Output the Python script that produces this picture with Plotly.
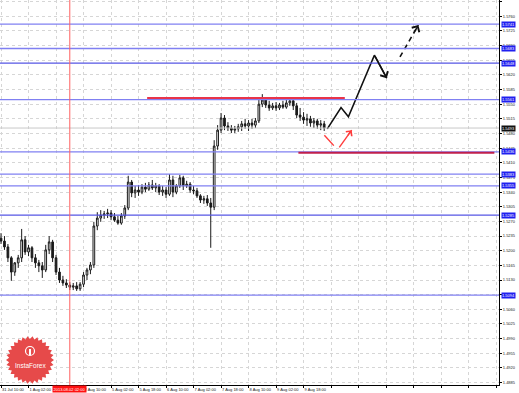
import numpy as np
import plotly.graph_objects as go

# ---------------- data ----------------
bar_hours = list(range(0, 190, 2))  # trading hours since 31 Jul 10:00, 2h bars

open_ = [1.5230,1.5223,1.5209,1.5183,1.5149,1.5171,1.5183,1.5226,1.5197,1.5207,
         1.5183,1.5171,1.5164,1.5154,1.5202,1.5221,1.5183,1.5149,1.5130,1.5123,
         1.5118,1.5113,1.5116,1.5109,1.5120,1.5142,1.5154,1.5166,1.5259,1.5278,
         1.5285,1.5288,1.5290,1.5281,1.5273,1.5266,1.5283,1.5302,1.5364,1.5338,
         1.5345,1.5340,1.5352,1.5347,1.5357,1.5350,1.5355,1.5340,1.5345,1.5335,
         1.5369,1.5340,1.5355,1.5374,1.5355,1.5359,1.5345,1.5343,1.5331,1.5321,
         1.5324,1.5314,1.5304,1.5450,1.5488,1.5517,1.5498,1.5493,1.5488,1.5491,
         1.5496,1.5503,1.5498,1.5505,1.5500,1.5510,1.5550,1.5560,1.5548,1.5541,
         1.5546,1.5541,1.5548,1.5543,1.5553,1.5558,1.5546,1.5524,1.5519,1.5512,
         1.5515,1.5505,1.5510,1.5500,1.5503]
high = [1.5242,1.5235,1.5216,1.5187,1.5173,1.5190,1.5252,1.5235,1.5214,1.5211,
        1.5192,1.5178,1.5173,1.5214,1.5235,1.5226,1.5190,1.5159,1.5140,1.5132,
        1.5125,1.5123,1.5125,1.5125,1.5149,1.5159,1.5173,1.5269,1.5292,1.5297,
        1.5295,1.5300,1.5297,1.5290,1.5283,1.5290,1.5309,1.5379,1.5369,1.5355,
        1.5357,1.5359,1.5362,1.5364,1.5369,1.5362,1.5359,1.5355,1.5352,1.5383,
        1.5379,1.5359,1.5381,1.5379,1.5367,1.5364,1.5355,1.5350,1.5335,1.5331,
        1.5333,1.5326,1.5464,1.5500,1.5529,1.5524,1.5507,1.5500,1.5498,1.5503,
        1.5510,1.5515,1.5512,1.5515,1.5517,1.5565,1.5574,1.5567,1.5558,1.5553,
        1.5555,1.5553,1.5558,1.5560,1.5565,1.5562,1.5553,1.5541,1.5531,1.5527,
        1.5522,1.5517,1.5515,1.5512,1.5510]
low = [1.5216,1.5202,1.5173,1.5128,1.5140,1.5159,1.5173,1.5190,1.5187,1.5173,
       1.5159,1.5149,1.5135,1.5149,1.5192,1.5173,1.5142,1.5123,1.5116,1.5111,
       1.5106,1.5106,1.5104,1.5104,1.5113,1.5130,1.5144,1.5159,1.5249,1.5269,
       1.5276,1.5278,1.5273,1.5269,1.5262,1.5262,1.5276,1.5297,1.5328,1.5326,
       1.5331,1.5335,1.5340,1.5343,1.5345,1.5340,1.5333,1.5331,1.5326,1.5331,
       1.5328,1.5335,1.5350,1.5345,1.5350,1.5338,1.5335,1.5326,1.5314,1.5312,
       1.5307,1.5207,1.5297,1.5441,1.5481,1.5488,1.5486,1.5481,1.5481,1.5484,
       1.5486,1.5491,1.5486,1.5491,1.5493,1.5505,1.5543,1.5541,1.5534,1.5536,
       1.5534,1.5536,1.5539,1.5539,1.5546,1.5536,1.5517,1.5510,1.5503,1.5498,
       1.5496,1.5493,1.5491,1.5488,1.5486]
close = [1.5223,1.5209,1.5183,1.5149,1.5171,1.5183,1.5226,1.5197,1.5207,1.5183,
         1.5171,1.5164,1.5154,1.5202,1.5221,1.5183,1.5149,1.5130,1.5123,1.5118,
         1.5113,1.5116,1.5109,1.5120,1.5142,1.5154,1.5166,1.5259,1.5278,1.5285,
         1.5288,1.5290,1.5281,1.5273,1.5266,1.5283,1.5302,1.5364,1.5338,1.5345,
         1.5340,1.5352,1.5347,1.5357,1.5350,1.5355,1.5340,1.5345,1.5335,1.5369,
         1.5340,1.5355,1.5374,1.5355,1.5359,1.5345,1.5343,1.5331,1.5321,1.5324,
         1.5314,1.5304,1.5450,1.5488,1.5517,1.5498,1.5493,1.5488,1.5491,1.5496,
         1.5503,1.5498,1.5505,1.5500,1.5510,1.5550,1.5560,1.5548,1.5541,1.5546,
         1.5541,1.5548,1.5543,1.5553,1.5558,1.5546,1.5524,1.5519,1.5512,1.5515,
         1.5505,1.5510,1.5500,1.5503,1.5493]

time_grid = [0,16,32,48,64,80,96,112,128,144,160,176,192,208,224,240,256,272,288]
# the 1 Aug 18:00 label is hidden under the red date box in the reference
time_labels = ["31 Jul 10:00","1 Aug 02:00","","2 Aug 10:00","5 Aug 02:00",
               "5 Aug 18:00","6 Aug 10:00","7 Aug 02:00","7 Aug 18:00","8 Aug 10:00",
               "9 Aug 02:00","9 Aug 18:00","","","","","","",""]

price_ticks = [1.4885,1.4920,1.4955,1.4990,1.5025,1.5060,1.5095,1.5130,1.5165,1.5200,
               1.5235,1.5270,1.5305,1.5340,1.5375,1.5410,1.5445,1.5480,1.5515,1.5550,
               1.5585,1.5620,1.5655,1.5690,1.5725,1.5760,1.5795]
price_labels = [f"{v:.4f}" for v in price_ticks]

blue_levels = [1.5741,1.5683,1.5648,1.5561,1.5436,1.5383,1.5355,1.5285,1.5094]
blue_colors = ["#8080f2","#8080f2","#5656e4","#8080f2","#8080f2","#8080f2","#8080f2","#5656e4","#8080f2"]
current_price = 1.5493
vline_hour = 40
vline_label = "2013.08.02 02:00"

resist_level = 1.5565; resist_from = 85; resist_to = 200
support_level = 1.5434; support_from = 173; support_to = 287

path_h = [189.8,197.8,202.1,217.2]
path_p = [1.5491,1.5542,1.5520,1.5667]
path_end = (224.4,1.5612)
dash_h = [232.1,242.8]
dash_p = [1.5663,1.5739]
red_a_h = [188.1,193.6]
red_a_p = [1.5476,1.5451]
red_b_h = [196.8,204.0]
red_b_p = [1.5447,1.5488]

# ---------------- figure ----------------
FW, FH = 519, 393
ML, MR, MT, MB = 0, 20, 0, 8
PW, PH = FW - ML - MR, FH - MT - MB
FONT = "Liberation Sans"

fig = go.Figure()
fig.add_trace(go.Candlestick(
    x=bar_hours, open=open_, high=high, low=low, close=close,
    increasing=dict(line=dict(color="#1a1a1a", width=1), fillcolor="#ffffff"),
    decreasing=dict(line=dict(color="#1a1a1a", width=1), fillcolor="#1a1a1a"),
    whiskerwidth=0, hoverinfo="skip"))

fig.add_trace(go.Scatter(x=path_h + [path_end[0]], y=path_p + [path_end[1]], mode="lines",
                         line=dict(color="#111111", width=1.6), hoverinfo="skip"))
fig.add_trace(go.Scatter(x=dash_h, y=dash_p, mode="lines",
                         line=dict(color="#111111", width=1.6, dash="5px,4px"), hoverinfo="skip"))
fig.add_trace(go.Scatter(x=red_a_h, y=red_a_p, mode="lines",
                         line=dict(color="#ff3b3b", width=1.4), hoverinfo="skip"))
fig.add_trace(go.Scatter(x=red_b_h, y=red_b_p, mode="lines",
                         line=dict(color="#ff3b3b", width=1.4), hoverinfo="skip"))

shapes = []
for lv, col in zip(blue_levels, blue_colors):
    shapes.append(dict(type="line", xref="paper", x0=0, x1=1, yref="y", y0=lv, y1=lv,
                       line=dict(color=col, width=1.3)))
shapes.append(dict(type="line", xref="paper", x0=0, x1=1, yref="y", y0=current_price, y1=current_price,
                   line=dict(color="#c8c8c8", width=1)))
shapes.append(dict(type="line", xref="x", x0=vline_hour, x1=vline_hour, yref="paper", y0=0, y1=1,
                   line=dict(color="#ff6060", width=1)))
shapes.append(dict(type="line", xref="x", x0=resist_from, x1=resist_to, yref="y",
                   y0=resist_level, y1=resist_level, line=dict(color="#e8344a", width=2)))
shapes.append(dict(type="line", xref="x", x0=support_from, x1=support_to, yref="y",
                   y0=support_level, y1=support_level, line=dict(color="#c01f4c", width=2)))

# logo
def pp(px, py):
    return px / PW, 1 - py / PH
cx, cy = 30, 360
pts = []
n = 30
for i in range(2 * n):
    r = 24 if i % 2 == 0 else 21
    a = np.pi * i / n
    pts.append(pp(cx + r * np.cos(a), cy + r * np.sin(a)))
path = "M " + " L ".join(f"{x:.5f},{y:.5f}" for x, y in pts) + " Z"
shapes.append(dict(type="path", xref="paper", yref="paper", path=path,
                   fillcolor="#e64a4a", line=dict(width=0), layer="above"))
x0, y0 = pp(cx - 4.5, cy - 13.5)
x1, y1 = pp(cx + 4.5, cy - 4.5)
shapes.append(dict(type="circle", xref="paper", yref="paper", x0=x0, y0=y1, x1=x1, y1=y0,
                   line=dict(color="white", width=1.2), layer="above"))
x0, y0 = pp(cx - 1, cy - 11)
x1, y1 = pp(cx + 1, cy - 5)
shapes.append(dict(type="rect", xref="paper", yref="paper", x0=x0, y0=y1, x1=x1, y1=y0,
                   fillcolor="white", line=dict(width=0), layer="above"))

annotations = []
for lv in blue_levels:
    annotations.append(dict(xref="paper", x=1.004, xanchor="left", yref="y", y=lv, yanchor="middle",
                            text=f"{lv:.4f}", showarrow=False, bgcolor="#2020f0",
                            font=dict(size=4, color="white", family=FONT), borderpad=0))
annotations.append(dict(xref="paper", x=1.004, xanchor="left", yref="y", y=current_price, yanchor="middle",
                        text=f"{current_price:.4f}", showarrow=False, bgcolor="#111111",
                        font=dict(size=4, color="white", family=FONT), borderpad=0))
annotations.append(dict(xref="x", x=vline_hour, xanchor="center", yref="paper", y=-4 / PH, yanchor="middle",
                        text=vline_label, showarrow=False, bgcolor="#ff1010",
                        font=dict(size=4, color="white", family=FONT), borderpad=0.5))
# arrow heads (open chevrons)
annotations.append(dict(x=path_end[0], y=path_end[1], ax=path_h[-1], ay=path_p[-1],
                        xref="x", yref="y", axref="x", ayref="y", showarrow=True, text="",
                        arrowhead=4, arrowsize=1.2, arrowwidth=1.4, arrowcolor="#111111"))
annotations.append(dict(x=dash_h[-1], y=dash_p[-1], ax=dash_h[-1] - 2.7, ay=dash_p[-1] - 0.0019,
                        xref="x", yref="y", axref="x", ayref="y", showarrow=True, text="",
                        arrowhead=4, arrowsize=1.2, arrowwidth=1.4, arrowcolor="#111111"))
annotations.append(dict(x=red_b_h[-1], y=red_b_p[-1], ax=red_b_h[-1] - 2.9, ay=red_b_p[-1] - 0.0016,
                        xref="x", yref="y", axref="x", ayref="y", showarrow=True, text="",
                        arrowhead=4, arrowsize=1.1, arrowwidth=1.3, arrowcolor="#ff3b3b"))
lx, ly = pp(cx, cy + 5)
annotations.append(dict(xref="paper", yref="paper", x=lx, y=ly, xanchor="center", yanchor="middle",
                        text="InstaForex", showarrow=False,
                        font=dict(size=6.5, color="white", family=FONT)))

fig.update_layout(width=FW, height=FH, margin=dict(l=ML, r=MR, t=MT, b=MB, pad=0),
                  paper_bgcolor="white", plot_bgcolor="white", showlegend=False,
                  shapes=shapes, annotations=annotations)
fig.update_xaxes(range=[-0.6, 289.7], tickmode="array", tickvals=time_grid, ticktext=time_labels,
                 tickangle=0,
                 showgrid=True, gridcolor="#d6d6d6", griddash="dot", gridwidth=1,
                 showline=True, linecolor="#000000", linewidth=1, ticks="outside", ticklen=2,
                 tickcolor="#000000", ticklabelposition="outside right",
                 tickfont=dict(size=4, family=FONT, color="#222222"),
                 zeroline=False, rangeslider=dict(visible=False), fixedrange=True)
fig.update_yaxes(side="right", range=[1.48793, 1.57988], tickmode="array", tickvals=price_ticks,
                 ticktext=price_labels, showgrid=True, gridcolor="#d6d6d6", griddash="dot", gridwidth=1,
                 showline=True, linecolor="#000000", linewidth=1, ticks="outside", ticklen=2,
                 tickcolor="#000000", tickfont=dict(size=4, family=FONT, color="#222222"),
                 zeroline=False, fixedrange=True)

fig.write_html("out.html")
